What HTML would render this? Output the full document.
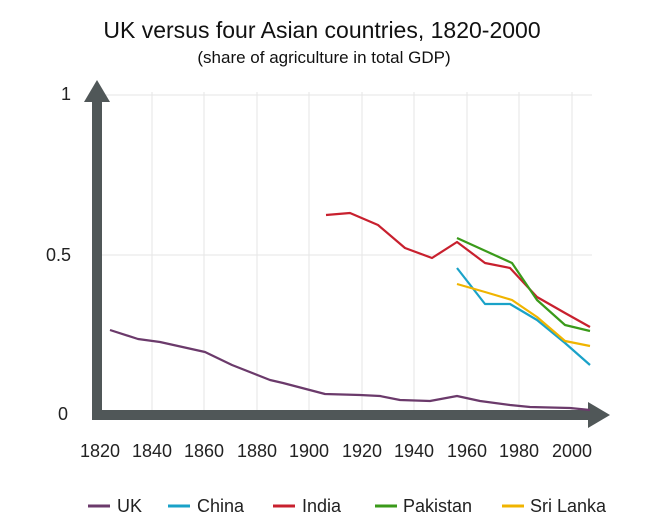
<!DOCTYPE html>
<html><head><meta charset="utf-8"><style>
html,body{margin:0;padding:0;background:#fff;}
svg{display:block;font-family:"Liberation Sans",sans-serif;}
</style></head><body>
<svg width="648" height="530" viewBox="0 0 648 530">
<text x="322" y="38" text-anchor="middle" font-size="23" fill="#111">UK versus four Asian countries, 1820-2000</text>
<text x="324" y="63" text-anchor="middle" font-size="17" fill="#111">(share of agriculture in total GDP)</text>
<g stroke="#e6e6e6" stroke-width="1">
<line x1="100" y1="95" x2="592" y2="95"/>
<line x1="100" y1="255" x2="592" y2="255"/>
<line x1="152" y1="92" x2="152" y2="415"/><line x1="204" y1="92" x2="204" y2="415"/>
<line x1="257" y1="92" x2="257" y2="415"/><line x1="309" y1="92" x2="309" y2="415"/>
<line x1="362" y1="92" x2="362" y2="415"/><line x1="414" y1="92" x2="414" y2="415"/>
<line x1="467" y1="92" x2="467" y2="415"/><line x1="519" y1="92" x2="519" y2="415"/>
<line x1="572" y1="92" x2="572" y2="415"/>
</g>
<g fill="#505758">
<rect x="92" y="100" width="10" height="320"/>
<polygon points="97,80 84,102 110,102"/>
<rect x="92" y="410" width="498" height="10"/>
<polygon points="610,415 588,402 588,428"/>
</g>
<g font-size="18" fill="#222">
<text x="66" y="100" text-anchor="middle">1</text>
<text x="46" y="261">0.5</text>
<text x="58" y="420">0</text>
</g>
<g font-size="18" fill="#222" text-anchor="middle">
<text x="100" y="457">1820</text><text x="152" y="457">1840</text><text x="204" y="457">1860</text>
<text x="257" y="457">1880</text><text x="309" y="457">1900</text><text x="362" y="457">1920</text>
<text x="414" y="457">1940</text><text x="467" y="457">1960</text><text x="519" y="457">1980</text>
<text x="572" y="457">2000</text>
</g>
<g fill="none" stroke-width="2.2" stroke-linejoin="round">
<polyline stroke="#6b3a6b" points="110,330 138,339 160,342 205,352 232,365 270,380 283,383 325,394 360,395 380,396 400,400 430,401 457,396 480,401 510,405 530,407 570,408 590,410"/>
<polyline stroke="#c8202e" points="326,215 350,213 378,225 405,248 432,258 457,242 485,263 510,268 537,297 565,313 590,327"/>
<polyline stroke="#3a9a1a" points="457,238 512,263 537,300 565,325 590,331"/>
<polyline stroke="#1aa2c8" points="457,268 485,304 510,304 537,320 565,343 590,365"/>
<polyline stroke="#f0b400" points="457,284 485,292 512,300 537,317 565,341 590,346"/>
</g>
<g font-size="18" fill="#222">
<line x1="88" y1="506" x2="110" y2="506" stroke="#6b3a6b" stroke-width="3"/><text x="117" y="512">UK</text>
<line x1="168" y1="506" x2="190" y2="506" stroke="#1aa2c8" stroke-width="3"/><text x="197" y="512">China</text>
<line x1="273" y1="506" x2="295" y2="506" stroke="#c8202e" stroke-width="3"/><text x="302" y="512">India</text>
<line x1="375" y1="506" x2="397" y2="506" stroke="#3a9a1a" stroke-width="3"/><text x="403" y="512">Pakistan</text>
<line x1="502" y1="506" x2="524" y2="506" stroke="#f0b400" stroke-width="3"/><text x="530" y="512">Sri Lanka</text>
</g>
</svg>
</body></html>
